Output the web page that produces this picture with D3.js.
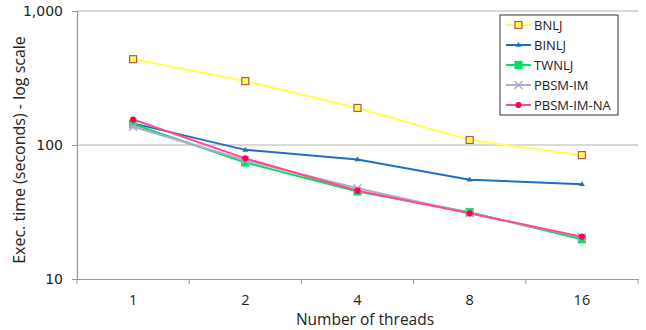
<!DOCTYPE html>
<html><head><meta charset="utf-8">
<script src="https://cdn.jsdelivr.net/npm/d3@7"></script>
<style>body{margin:0;background:#fff}svg{display:block}</style>
</head><body>
<svg id="c" width="646" height="330"></svg>
<script>
const categories = ["1","2","4","8","16"];
const seriesNames = ["BNLJ","BINLJ","TWNLJ","PBSM-IM","PBSM-IM-NA"];
const bnlj = [437, 300, 189, 109, 84];
const binlj = [145, 92, 78, 55, 51];
const twnlj = [143, 74, 45, 31.5, 19.8];
const pbsmIm = [137, 77, 47.5, 31, 20.5];
const pbsmImNa = [155, 79.5, 45.6, 30.9, 20.7];
const yTicks = [10, 100, 1000];

const seriesData = [bnlj, binlj, twnlj, pbsmIm, pbsmImNa];
const styles = [
  {line:"#ffff55", marker:"square", fill:"#ffff55", stroke:"#c0504d", size:7},
  {line:"#1f6fc0", marker:"triangle", fill:"#1f6fc0", stroke:"#1f6fc0", size:3},
  {line:"#00e060", marker:"square", fill:"#00e060", stroke:"#00e060", size:7},
  {line:"#b4a7d6", marker:"cross", fill:"#b4a7d6", stroke:"#b4a7d6", size:4},
  {line:"#ff4a90", marker:"dot", fill:"#ff0050", stroke:"#ff0050", size:6}
];

const svg = d3.select("#c");
const m = {l:77, r:638, t:11, b:279};
const x = d3.scaleBand().domain(categories).range([m.l, m.r]);
const y = d3.scaleLog().domain([10, 1000]).range([m.b, m.t]);

// gridlines
svg.append("g").selectAll("line").data(yTicks.filter(d=>d>10)).join("line")
  .attr("x1", m.l).attr("x2", m.r).attr("y1", d=>y(d)).attr("y2", d=>y(d))
  .attr("stroke", "#b3b3b3").attr("stroke-width", 1.2);

// y axis
const ya = svg.append("g").attr("transform", `translate(${m.l},0)`)
  .call(d3.axisLeft(y).tickValues(yTicks).tickFormat(d3.format(",")).tickSize(5).tickPadding(9));
ya.select(".domain").attr("stroke", "#999").attr("stroke-width", 1.2);
ya.selectAll(".tick line").attr("stroke", "#999");
ya.selectAll("text").attr("font-family", "Tahoma, 'DejaVu Sans', sans-serif").attr("font-size", 14).attr("fill", "#222");

// x axis
const xa = svg.append("g").attr("transform", `translate(0,${m.b})`)
  .call(d3.axisBottom(x).tickSize(0).tickPadding(16));
xa.select(".domain").attr("stroke", "#999").attr("stroke-width", 1.2);
xa.selectAll("text").attr("font-family", "'Open Sans', sans-serif").attr("font-size", 14.5).attr("fill", "#222");
const bounds = categories.map(c=>x(c)).concat([x.range()[1]]);
svg.append("g").selectAll("line").data(bounds).join("line")
  .attr("x1", d=>d).attr("x2", d=>d).attr("y1", m.b).attr("y2", m.b+5)
  .attr("stroke", "#999");

// axis titles
svg.append("text").attr("x", 365).attr("y", 325).attr("text-anchor", "middle")
  .attr("font-family", "'Open Sans', sans-serif").attr("font-size", 15.5).attr("fill", "#222")
  .text("Number of threads");
svg.append("text").attr("transform", `translate(25,150) rotate(-90)`).attr("text-anchor", "middle")
  .attr("font-family", "'Open Sans', sans-serif").attr("font-size", 16).attr("fill", "#222")
  .text("Exec. time (seconds) - log scale");

function drawMarker(g, st, cx, cy) {
  const s = st.size;
  if (st.marker === "square") {
    g.append("rect").attr("x", cx-s/2).attr("y", cy-s/2).attr("width", s).attr("height", s)
      .attr("fill", st.fill).attr("stroke", st.stroke).attr("stroke-width", 1.2);
  } else if (st.marker === "triangle") {
    g.append("path").attr("d", `M${cx},${cy-s}L${cx+s},${cy+s*0.6}L${cx-s},${cy+s*0.6}Z`).attr("fill", st.fill);
  } else if (st.marker === "cross") {
    g.append("path").attr("d", `M${cx-s},${cy-s}L${cx+s},${cy+s}M${cx+s},${cy-s}L${cx-s},${cy+s}M${cx-s},${cy}L${cx+s},${cy}`)
      .attr("stroke", st.stroke).attr("stroke-width", 1.5);
  } else if (st.marker === "dot") {
    g.append("path").attr("d", d3.symbol(d3.symbolCircle, 30)()).attr("transform", `translate(${cx},${cy})`)
      .attr("fill", st.fill);
  }
}

const line = d3.line().x((d,i)=>x(categories[i])+x.bandwidth()/2).y(d=>y(d));
seriesData.forEach((vals, k) => {
  const st = styles[k];
  const g = svg.append("g");
  g.append("path").attr("d", line(vals)).attr("fill", "none").attr("stroke", st.line).attr("stroke-width", 2);
  vals.forEach((v,i)=>drawMarker(g, st, x(categories[i])+x.bandwidth()/2, y(v)));
});

// legend
const lg = svg.append("g");
lg.append("rect").attr("x", 500).attr("y", 15).attr("width", 118).attr("height", 100)
  .attr("fill", "#fff").attr("stroke", "#333").attr("stroke-width", 1);
seriesNames.forEach((n, k) => {
  const st = styles[k];
  const yy = 25 + k*20;
  lg.append("line").attr("x1", 506).attr("x2", 531).attr("y1", yy).attr("y2", yy).attr("stroke", st.line).attr("stroke-width", 2);
  drawMarker(lg, st, 518.5, yy);
  lg.append("text").attr("x", 534).attr("y", yy+5).attr("font-family", "'Open Sans', sans-serif")
    .attr("font-size", 13).attr("fill", "#222").text(n);
});
</script>
</body></html>
